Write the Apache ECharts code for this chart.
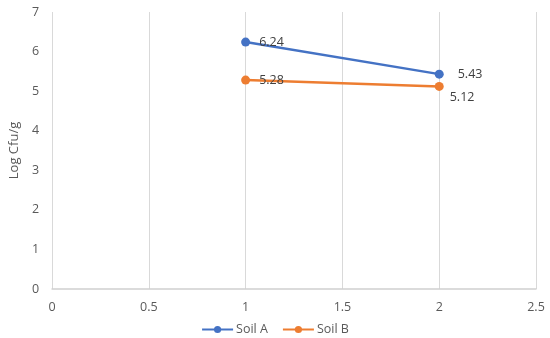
<!DOCTYPE html>
<html><head><meta charset="utf-8">
<script src="https://cdn.jsdelivr.net/npm/echarts@6/dist/echarts.min.js"></script>
<style>html,body{margin:0;padding:0;background:#fff}#c{width:550px;height:338px}</style>
</head><body><div id="c"></div>
<script>
const xTicks = [0, 0.5, 1, 1.5, 2, 2.5];
const yTicks = [0, 1, 2, 3, 4, 5, 6, 7];
const xValues = [1, 2];
const soilA = [6.24, 5.43];
const soilB = [5.28, 5.12];
const seriesNames = ['Soil A', 'Soil B'];
const yAxisName = 'Log Cfu/g';

const FONT = '"Open Sans", "Liberation Sans", sans-serif';
const TXT = '#595959';
const chart = echarts.init(document.getElementById('c'), null, {renderer: 'canvas'});
chart.setOption({
  animation: false,
  textStyle: {fontFamily: FONT},
  grid: {left: 50, right: 14, top: 12, bottom: 49},
  legend: {
    top: 318, left: 'center', itemGap: 14, itemWidth: 31, itemHeight: 9,
    textStyle: {color: TXT, fontSize: 12.5, fontFamily: FONT, padding: [0, 0, 0, -2]},
    data: seriesNames
  },
  xAxis: {
    type: 'value', min: xTicks[0], max: xTicks[xTicks.length - 1], interval: 0.5,
    axisLine: {show: true, lineStyle: {color: '#d0d0d0', width: 1.5}},
    axisTick: {show: false},
    splitLine: {show: true, lineStyle: {color: '#d9d9d9', width: 1}},
    axisLabel: {color: TXT, fontSize: 12.5, margin: 12}
  },
  yAxis: {
    type: 'value', min: yTicks[0], max: yTicks[yTicks.length - 1], interval: 1,
    name: yAxisName, nameLocation: 'middle', nameGap: 25, nameRotate: 90,
    nameTextStyle: {color: TXT, fontSize: 13},
    axisLine: {show: false}, axisTick: {show: false},
    splitLine: {show: false},
    axisLabel: {color: TXT, fontSize: 12.5, margin: 13}
  },
  series: [
    {
      name: seriesNames[0], type: 'line',
      data: [
        {value: [xValues[0], soilA[0]]},
        {value: [xValues[1], soilA[1]], label: {distance: 14}}
      ],
      color: '#4472C4', symbol: 'circle', symbolSize: 9,
      lineStyle: {width: 2.5}, z: 3,
      label: {show: true, position: 'right', distance: 9, color: '#404040', fontSize: 12.5,
        formatter: p => p.value[1].toFixed(2)}
    },
    {
      name: seriesNames[1], type: 'line',
      data: [
        {value: [xValues[0], soilB[0]]},
        {value: [xValues[1], soilB[1]], label: {offset: [-3, 11]}}
      ],
      color: '#ED7D31', symbol: 'circle', symbolSize: 9,
      lineStyle: {width: 2.5}, z: 2,
      label: {show: true, position: 'right', distance: 9, color: '#404040', fontSize: 12.5,
        formatter: p => p.value[1].toFixed(2)}
    }
  ]
});
</script></body></html>
